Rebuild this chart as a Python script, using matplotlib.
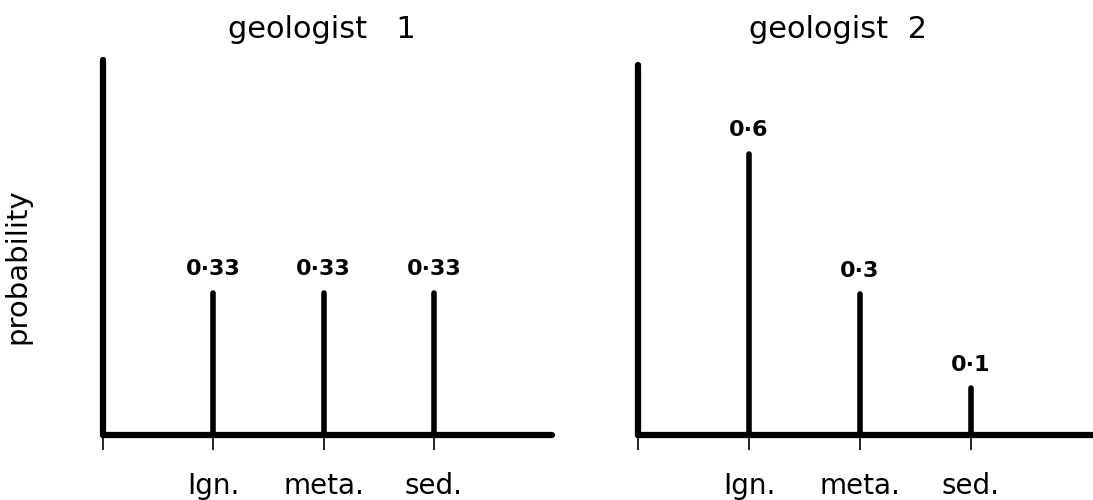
import matplotlib
matplotlib.use("Agg")
import matplotlib.pyplot as plt

categories = ["Ign.", "meta.", "sed."]
geologist1 = [0.33, 0.33, 0.33]
geologist2 = [0.6, 0.3, 0.1]
labels1 = ["0·33", "0·33", "0·33"]
labels2 = ["0·6", "0·3", "0·1"]
titles = ["geologist   1", "geologist  2"]

plt.rcParams['font.family'] = ['DejaVu Sans']

fig = plt.figure(figsize=(10.93, 5.0), dpi=100)
W, H = 1093, 500

def make_axes(x0, x1, ytop, ybot, ylim_top, xlim_right, values, labels):
    ax = fig.add_axes([x0 / W, 1 - ybot / H, (x1 - x0) / W, (ybot - ytop) / H])
    xs = list(range(1, len(values) + 1))
    ax.vlines(xs, 0, values, color='black', linewidth=4.0, capstyle='round')
    for x, v, lab in zip(xs, values, labels):
        ax.annotate(lab, (x, v), xytext=(0, 17), textcoords='offset points',
                    ha='center', va='center', fontsize=16, fontweight='bold')
    ax.set_xlim(0, xlim_right)
    ax.set_ylim(0, ylim_top)
    for s in ['top', 'right']:
        ax.spines[s].set_visible(False)
    for s in ['left', 'bottom']:
        ax.spines[s].set_linewidth(4.5)
        ax.spines[s].set_capstyle('round')
    ax.set_yticks([])
    ax.set_xticks([0] + xs)
    ax.set_xticklabels([''] + categories, fontsize=20)
    ax.tick_params(axis='x', direction='out', length=11, width=1.2, pad=16)
    return ax

ax1 = make_axes(103, 552, 60, 435, 0.87, 4.07, geologist1, labels1)
ax2 = make_axes(638, 1093, 65, 435, 0.79, 4.1, geologist2, labels2)

ax1.set_ylabel("probability", fontsize=21)
ax1.yaxis.set_label_coords(-0.16, 0.45)

fig.text(322 / W, 1 - 30 / H, titles[0], ha='center', va='center', fontsize=22)
fig.text(838 / W, 1 - 30 / H, titles[1], ha='center', va='center', fontsize=22)

fig.savefig("out.png", dpi=100)
